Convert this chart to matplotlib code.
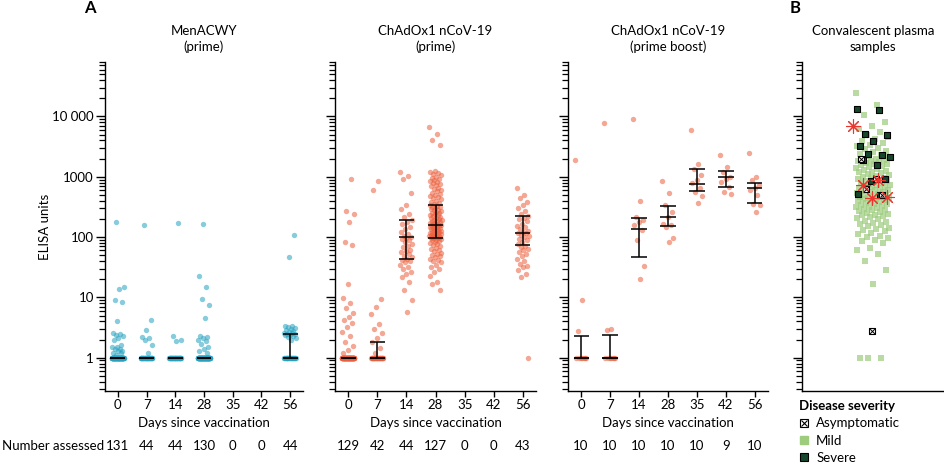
import numpy as np
import matplotlib
matplotlib.use("Agg")
import matplotlib.pyplot as plt
import matplotlib.transforms as mtransforms
from matplotlib.lines import Line2D
from matplotlib.ticker import FixedLocator, LogLocator, NullFormatter

plt.rcParams['font.family'] = ['Lato', 'DejaVu Sans']
plt.rcParams['font.size'] = 9

days = ["0", "7", "14", "28", "35", "42", "56"]

# MenACWY (prime)
men_d0 = [1] * 109 + [178, 15, 14, 9, 8.5, 4.1, 2.6, 2.5, 2.4, 2.3, 2.1, 2.0, 1.6,
                      1.5, 1.5, 1.4, 1.4, 1.3, 1.3, 1.2, 1.2, 1.1]
men_d7 = [1] * 36 + [160, 4.2, 2.9, 2.2, 2.1, 2.0, 1.6, 1.2]
men_d14 = [1] * 40 + [170, 2.3, 2.0, 1.9]
men_d28 = [1] * 114 + [165, 23, 15, 9.5, 7.5, 4.5, 2.3, 2.2, 2.1, 2.0, 1.9, 1.7,
                       1.5, 1.4, 1.3, 1.2]
men_d56 = [1] * 24 + [110, 47, 3.4, 3.3, 3.2, 3.1, 3.0, 2.9, 2.8, 2.7, 2.6, 2.6,
                      2.5, 2.5, 2.4, 2.4, 2.3, 2.2, 2.1, 2.0]
men_n = [131, 44, 44, 130, 0, 0, 44]
men_med = [1, 1, 1, 1, None, None, 1]
men_q1 = [1, 1, 1, 1, None, None, 1]
men_q3 = [1, 1, 1, 1, None, None, 2.5]

# ChAdOx1 nCoV-19 (prime)
pr_d0 = [1] * 108 + [935, 270, 240, 178, 82, 73, 16.7, 9.7, 8.1, 6.6, 5.6, 4.8,
                     4.2, 3.8, 3.2, 2.7, 2.3, 1.8, 1.55, 1.35, 1.2]
pr_d7 = [1] * 30 + [860, 612, 9.4, 6.8, 5.3, 3.6, 3.0, 2.6, 2.15, 1.8, 1.45, 1.2]
pr_d14 = [1200, 1040, 935, 530, 338, 297, 244, 215, 190, 178, 165, 147, 135, 121,
          112, 105, 100, 98, 92, 88, 82, 76, 70, 68, 62, 58, 56, 52, 48, 46, 44,
          42, 40, 38, 35, 32, 29, 26, 24, 21.5, 18, 13.2, 9, 5.8]
pr_d28 = [6600, 5100, 4100, 3380,
          1250, 1200, 1150, 1100, 1050, 1000, 960, 920, 880, 850, 820, 780, 750,
          720, 690, 660, 630, 600, 570, 540, 520, 500, 480, 460, 440, 420, 400,
          385, 370, 355, 340,
          330, 320, 310, 300, 292, 285, 278, 270, 262, 255, 248, 240, 234, 228,
          222, 216, 210, 205, 200, 195, 190, 186, 182, 178, 174, 170, 166, 163,
          160, 158, 156,
          154, 151, 148, 146, 143, 140, 138, 135, 132, 130, 128, 125, 123, 121,
          119, 117, 115, 113, 111, 109, 107, 105, 104, 103, 102, 101, 100, 99,
          98, 97, 96,
          94, 91, 88, 85, 82, 79, 76, 73, 70, 67, 64, 61, 58, 55, 52, 50, 48, 46,
          44, 42, 40, 38, 35, 32, 29, 26.8, 23, 18, 16.7, 13.4]
pr_d56 = [640, 500, 440, 380, 340, 300, 270, 245, 225, 210, 200, 185, 167, 155,
          145, 138, 128, 120, 118, 115, 110, 105, 100, 94, 88, 82, 77, 72, 68, 64,
          60, 56, 53, 48, 43, 40, 36, 33, 31.6, 28, 24.5, 22, 1]
pr_n = [129, 42, 44, 127, 0, 0, 43]
pr_med = [1, 1, 102, 156, None, None, 117]
pr_q1 = [1, 1, 44, 96, None, None, 75]
pr_q3 = [1, 1.85, 190, 338, None, None, 220]

# ChAdOx1 nCoV-19 (prime boost)
pb_d0 = [1900, 9.2, 2.8] + [1] * 7
pb_d7 = [7700, 2.97, 2.9] + [1] * 7
pb_d14 = [9100, 390, 215, 190, 178, 156, 130, 88, 33.7, 20.2]
pb_d28 = [850, 530, 338, 260, 215, 167, 156, 147, 96, 82]
pb_d35 = [6000, 1620, 1370, 1060, 880, 780, 640, 560, 475, 370]
pb_d42 = [2300, 1450, 1200, 1000, 935, 830, 680, 550, 525]
pb_d56 = [2450, 1000, 880, 740, 660, 600, 500, 360, 340, 260]
pb_n = [10, 10, 10, 10, 10, 9, 10]
pb_med = [1, 1, 138, 215, 770, 1000, 640]
pb_q1 = [1, 1, 47.5, 152, 590, 665, 370]
pb_q3 = [2.3, 2.4, 210, 330, 1330, 1240, 800]

# Convalescent plasma samples
cp_mild = [24700, 15500, 10500, 8200, 7000, 6200, 5600, 5000, 4600, 4200, 3900,
           3600, 3400, 3200, 3000, 2850, 2700, 2550, 2400, 2300, 2200, 2100, 2000,
           1950, 1900, 1850, 1800, 1750, 1700, 1650, 1600, 1550, 1500, 1450, 1400,
           1350, 1300, 1260, 1220, 1180, 1140, 1100, 1060, 1020, 1000, 970, 940,
           910, 880, 860, 840, 820, 800, 780, 760, 740, 720, 700, 685, 670, 655,
           640, 625, 610, 595, 580, 565, 550, 535, 520, 505, 490, 480, 470, 460,
           450, 440, 430, 420, 410, 400, 390, 380, 370, 360, 350, 340, 330, 320,
           310, 300, 292, 284, 276, 268, 260, 252, 244, 236, 228, 220, 212, 204,
           196, 188, 180, 172, 165, 158, 151, 144, 137, 130, 124, 118, 112, 106,
           100, 95, 90, 85, 80, 65, 62, 52, 40, 28.5, 16.5, 1, 1, 1]
cp_severe = [13100, 12800, 5070, 4900, 3860, 3200, 2260, 2400, 2150, 1585, 1900,
             930, 850, 520, 490]
cp_asym = [2000, 930, 630, 490, 2.75]
cp_star = [6900, 870, 720, 460, 450]

ylo, yhi = 0.28, 80000


def jitter(n, width):
    k = np.arange(n)
    return ((k * 0.6180339887) % 1.0 - 0.5) * width


def style_axes(ax, show_labels):
    ax.set_yscale('log')
    ax.set_ylim(ylo, yhi)
    for s in ['top', 'right']:
        ax.spines[s].set_visible(False)
    for s in ['left', 'bottom']:
        ax.spines[s].set_linewidth(1.0)
    ax.yaxis.set_major_locator(FixedLocator([1, 10, 100, 1000, 10000]))
    ax.yaxis.set_minor_locator(LogLocator(base=10, subs=np.arange(2, 10), numticks=20))
    ax.yaxis.set_minor_formatter(NullFormatter())
    ax.tick_params(axis='y', which='major', length=6.5, width=1, labelsize=9.5, pad=1.5)
    ax.tick_params(axis='y', which='minor', length=4, width=0.9)
    if show_labels:
        ax.set_yticklabels(['1', '10', '100', '1000', '10 000'])
    else:
        ax.tick_params(axis='y', labelleft=False)


def draw_panel(ax, groups, med, q1, q3, color, n_assessed, title):
    style_axes(ax, ax is axes[0])
    for i, vals in enumerate(groups):
        if not vals:
            continue
        vals = np.asarray(vals, float)
        ax.scatter(i + jitter(len(vals), 0.42), vals, s=15, color=color,
                   alpha=0.55, lw=0, zorder=2)
        if med[i] is None:
            continue
        ax.vlines(i, q1[i], q3[i], color='black', lw=1.1, zorder=3)
        ax.hlines([q1[i], med[i], q3[i]], i - 0.26, i + 0.26, color='black',
                  lw=1.1, zorder=3)
    ax.set_xlim(-0.45, 6.45)
    ax.set_xticks(range(len(days)))
    ax.set_xticklabels(days, fontsize=9.5)
    ax.tick_params(axis='x', length=4, width=1, pad=2)
    ax.set_xlabel("Days since vaccination", fontsize=9.5, labelpad=4)
    ax.set_title(title, fontsize=9.5, pad=8, linespacing=1.35)
    tr = mtransforms.blended_transform_factory(ax.transData, fig.transFigure)
    for i, n in enumerate(n_assessed):
        ax.text(i, 0.041, str(n), transform=tr, ha='center', va='center', fontsize=9.5)


fig = plt.figure(figsize=(9.44, 4.65), dpi=100)
W, H = 944, 465


def px_axes(left, right, top, bottom):
    return fig.add_axes([left / W, 1 - bottom / H, (right - left) / W, (bottom - top) / H])


axes = [px_axes(105, 303, 62, 391), px_axes(335, 536, 62, 391),
        px_axes(568, 768, 62, 391)]
axb = px_axes(802, 944, 62, 391)

teal = '#25a2c0'
orange = '#ec5f3c'

draw_panel(axes[0], [men_d0, men_d7, men_d14, men_d28, [], [], men_d56],
           men_med, men_q1, men_q3, teal, men_n, "MenACWY\n(prime)")
draw_panel(axes[1], [pr_d0, pr_d7, pr_d14, pr_d28, [], [], pr_d56],
           pr_med, pr_q1, pr_q3, orange, pr_n, "ChAdOx1 nCoV-19\n(prime)")
draw_panel(axes[2], [pb_d0, pb_d7, pb_d14, pb_d28, pb_d35, pb_d42, pb_d56],
           pb_med, pb_q1, pb_q3, orange, pb_n, "ChAdOx1 nCoV-19\n(prime boost)")

# panel B
style_axes(axb, False)
axb.set_xlim(-1, 1)
axb.set_xticks([])
axb.set_title("Convalescent plasma\nsamples", fontsize=9.5, pad=8, linespacing=1.35)
mild_c = '#9ccc7c'
severe_c = '#17472d'
axb.scatter(jitter(len(cp_mild), 0.48), cp_mild, s=20, marker='s', color=mild_c,
            alpha=0.7, lw=0, zorder=2)
axb.scatter(jitter(len(cp_severe), 0.5) + 0.02, cp_severe, s=24, marker='s',
            facecolor=severe_c, edgecolor='black', lw=0.8, zorder=3)
xa = jitter(len(cp_asym), 0.35)
axb.scatter(xa, cp_asym, s=22, marker='s', facecolor='white', edgecolor='black',
            lw=0.8, zorder=4)
axb.scatter(xa, cp_asym, s=14, marker='x', color='black', lw=0.7, zorder=5)
axb.scatter(jitter(len(cp_star), 0.55), cp_star, s=100, marker=(8, 2, 0),
            color='#e8372f', lw=0.8, zorder=6)

# panel letters and shared labels
fig.text(90 / W, 1 - 8 / H, "A", fontsize=12, fontweight='bold', ha='center', va='center')
fig.text(795 / W, 1 - 8 / H, "B", fontsize=12, fontweight='bold', ha='center', va='center')
fig.text(45 / W, 0.5 * (1 - 62 / H + 1 - 391 / H), "ELISA units", rotation=90,
         fontsize=9.5, ha='center', va='center')
fig.text(2 / W, 0.041, "Number assessed", fontsize=9.5, ha='left', va='center')

# legend
h_asym = (Line2D([], [], ls='', marker='s', mfc='white', mec='black', ms=6, mew=0.8),
          Line2D([], [], ls='', marker='x', color='black', ms=4, mew=0.8))
h_mild = Line2D([], [], ls='', marker='s', color=mild_c, ms=6)
h_sev = Line2D([], [], ls='', marker='s', mfc=severe_c, mec='black', ms=6, mew=0.8)
fig.legend([h_asym, h_mild, h_sev], ["Asymptomatic", "Mild", "Severe"],
           loc='upper left', bbox_to_anchor=(799 / W, 1 - 400 / H), frameon=False,
           title="Disease severity", title_fontproperties={'weight': 'bold', 'size': 9.5},
           alignment='left', fontsize=9.5, handlelength=0.8, handletextpad=0.5,
           labelspacing=0.4, borderpad=0, borderaxespad=0)

fig.savefig("out.png", dpi=100)
